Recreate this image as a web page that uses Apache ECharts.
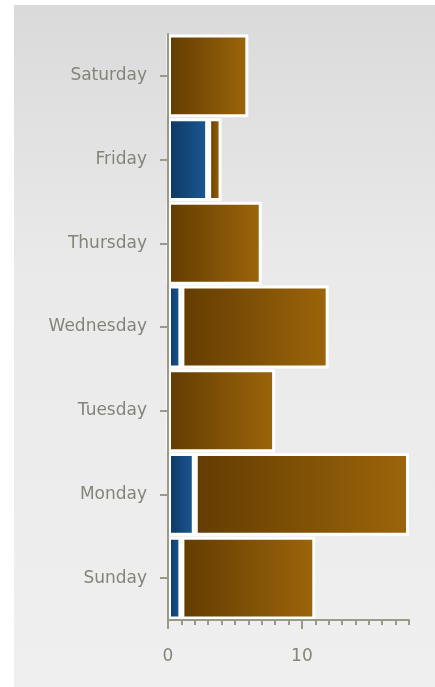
<!DOCTYPE html>
<html>
<head>
<meta charset="utf-8">
<script src="https://cdn.jsdelivr.net/npm/echarts@6/dist/echarts.min.js"></script>
<style>
  html, body { margin: 0; padding: 0; background: #ffffff; }
  #chart { width: 435px; height: 687px; }
</style>
</head>
<body>
<div id="chart"></div>
<script>
// Weekdays, bottom to top
const days = ['Sunday', 'Monday', 'Tuesday', 'Wednesday', 'Thursday', 'Friday', 'Saturday'];
// First (blue) stacked segment
const blueValues = [1, 2, 0, 1, 0, 3, 0];
// Second (brown) stacked segment
const brownValues = [10, 16, 8, 11, 7, 1, 6];
// Value axis range and labelled ticks
const axisMax = 18;
const labelledTicks = [0, 10];

const labelFont = 'DejaVu Sans';
const labelColor = '#84847a';
const lineColor = '#9a9a88';

function hGradient(from, to) {
  return new echarts.graphic.LinearGradient(0, 0, 1, 0, [
    { offset: 0, color: from },
    { offset: 1, color: to }
  ]);
}

const chart = echarts.init(document.getElementById('chart'), null, { renderer: 'canvas' });

chart.setOption({
  animation: false,
  graphic: [{
    type: 'rect',
    z: -10,
    silent: true,
    shape: { x: 14, y: 5, width: 421, height: 682 },
    style: {
      fill: new echarts.graphic.LinearGradient(0, 0, 0, 1, [
        { offset: 0, color: '#dadada' },
        { offset: 0.4, color: '#eaeaea' },
        { offset: 1, color: '#efefef' }
      ])
    }
  }],
  grid: { left: 168, right: 26, top: 34, bottom: 67, containLabel: false },
  xAxis: [{
    type: 'value',
    min: 0,
    max: axisMax,
    interval: 1,
    z: 10,
    axisLine: { show: true, lineStyle: { color: lineColor, width: 2 } },
    axisTick: { show: true, length: 5, lineStyle: { color: lineColor, width: 2 } },
    splitLine: { show: false },
    axisLabel: {
      interval: 0,
      margin: 28,
      color: labelColor,
      fontFamily: labelFont,
      fontSize: 17,
      formatter: v => (labelledTicks.indexOf(v) >= 0 ? String(v) : '')
    }
  }, {
    type: 'value',
    position: 'bottom',
    min: 0,
    max: axisMax,
    interval: 10,
    z: 10,
    axisLine: { show: false },
    axisTick: { show: true, length: 9, customValues: labelledTicks, lineStyle: { color: lineColor, width: 2 } },
    splitLine: { show: false },
    axisLabel: { show: false }
  }],
  yAxis: {
    type: 'category',
    data: days,
    z: 10,
    axisLine: { show: true, lineStyle: { color: lineColor, width: 2 } },
    axisTick: { show: true, alignWithLabel: true, length: 8, lineStyle: { color: lineColor, width: 2 } },
    axisLabel: {
      margin: 21,
      color: labelColor,
      fontFamily: labelFont,
      fontSize: 17
    }
  },
  series: [{
    type: 'bar',
    stack: 'week',
    data: blueValues,
    barCategoryGap: '1%',
    itemStyle: {
      color: hGradient('#0e3862', '#1a5894'),
      borderColor: '#ffffff',
      borderWidth: 3
    }
  }, {
    type: 'bar',
    stack: 'week',
    data: brownValues,
    barCategoryGap: '1%',
    itemStyle: {
      color: hGradient('#633c02', '#9c650a'),
      borderColor: '#ffffff',
      borderWidth: 3
    }
  }]
});
</script>
</body>
</html>
